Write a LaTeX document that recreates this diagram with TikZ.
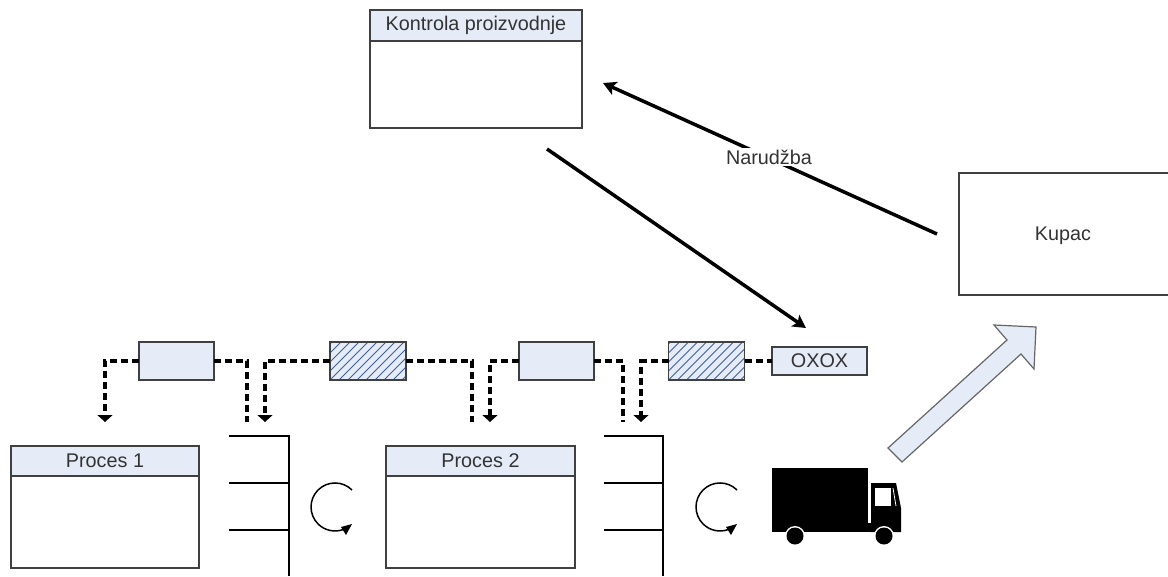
\documentclass[tikz,border=0pt]{standalone}
\usepackage{fontspec}
\setmainfont{Liberation Sans}
\usetikzlibrary{arrows.meta}
\definecolor{paleblue}{HTML}{E6ECF7}
\definecolor{edgegrey}{HTML}{404040}
\definecolor{textgrey}{HTML}{333333}
\definecolor{hatchblue}{HTML}{3F5F9F}
\tikzset{
  x=1pt,y=-1pt,
  every node/.style={font=\fontsize{19.8}{22}\selectfont,text=textgrey,inner sep=0pt,outer sep=0pt},
  frame/.style={draw=edgegrey,line width=1.5pt,fill=white},
  head/.style={draw=edgegrey,line width=1.5pt,fill=paleblue},
  plainbox/.style={head,minimum width=75pt,minimum height=38pt},
  hatchbox/.style={draw=edgegrey,line width=1.5pt,fill=paleblue,minimum width=76pt,minimum height=38pt,
    path picture={
      \foreach \k in {-54,-45,...,72}
        \draw[hatchblue,line width=1pt] ([xshift=\k pt]path picture bounding box.south west) -- ++(50pt,50pt);
    }},
  dashline/.style={draw=black,line width=3.5pt,dash pattern=on 7pt off 4pt},
  dashtip/.style={dashline,-{Triangle[width=15pt,length=7pt]}},
  flow/.style={draw=black,line width=3.5pt,-{Stealth[length=13pt,width=14pt,inset=3pt]}},
  stackline/.style={draw=black,line width=1.5pt},
  cyclearc/.style={draw=black,line width=1.5pt},
}
\begin{document}
\begin{tikzpicture}
\useasboundingbox (0,0) rectangle (1168,576);
\fill[white] (0,0) rectangle (1168,576);

% Control box
\node[frame,minimum width=212pt,minimum height=87pt] (ctrlbody) at (476,84.5) {};
\node[head,minimum width=212pt,minimum height=31pt] (ctrlhead) at (476,25.5) {Kontrola proizvodnje};

% Customer: the box runs off the right edge of the page
\node[frame,minimum width=216pt,minimum height=122pt] (kupac) at (1067,234) {};
\node (kupaclabel) at (1063,236) {Kupac};

% Process boxes
\node[frame,minimum width=188pt,minimum height=92pt] (p1body) at (105,522) {};
\node[head,minimum width=188pt,minimum height=30pt] (p1head) at (105,461) {Proces 1};
\node[frame,minimum width=189pt,minimum height=92pt] (p2body) at (480.5,522) {};
\node[head,minimum width=189pt,minimum height=30pt] (p2head) at (480.5,461) {Proces 2};

% Top row
\node[plainbox] (b1) at (176.5,361) {};
\node[hatchbox] (h1) at (368,361) {};
\node[plainbox] (b2) at (556.5,361) {};
\node[hatchbox] (h2) at (706.5,361) {};
\node[head,minimum width=95pt,minimum height=28pt] (ox) at (819.5,361) {OXOX};

% Free ends
\coordinate (e1) at (105,422);
\coordinate (e2) at (247,422);
\coordinate (e3) at (265,422);
\coordinate (e4) at (472,422);
\coordinate (e5) at (490,422);
\coordinate (e6) at (623,422);
\coordinate (e7) at (641,422);

\draw[dashtip] (b1.west) -| (e1);
\draw[dashline] (b1.east) -| (e2);
\draw[dashtip] (h1.west) -| (e3);
\draw[dashline] (h1.east) -| (e4);
\draw[dashtip] (b2.west) -| (e5);
\draw[dashline] (b2.east) -| (e6);
\draw[dashtip] (h2.west) -| (e7);
\draw[dashline] (h2.east) -- (ox.west);

% Main arrows
\coordinate (oa) at (547,149);
\coordinate (ob) at (806,328);
\coordinate (na) at (937,234);
\coordinate (nb) at (603,83);
\draw[flow] (oa) -- (ob);
\draw[flow] (na) -- (nb);
\node[fill=white,inner xsep=3pt,inner ysep=2pt] (nar) at (769,157) {Narudžba};

% Stacks
\foreach \xa/\xb in {229/289,604/663}{
  \draw[stackline] (\xa,436) -- (\xb,436) -- (\xb,576);
  \draw[stackline] (\xa,483) -- (\xb,483);
  \draw[stackline] (\xa,530) -- (\xb,530);
}

% Cycle arrows
\foreach \dx in {0,385}{
  \begin{scope}[xshift=\dx pt]
    \draw[cyclearc] (352,490) arc[start angle=45,end angle=290,x radius=24pt,y radius=24pt];
    \fill[black] (341,527) -- (352,524) -- (346,535) -- cycle;
  \end{scope}
}

% Big arrow
\draw[draw=edgegrey!80,line width=1.2pt,fill=paleblue]
  (888,448) -- (902,462) -- (1021,354) -- (1034,369) -- (1036,327) -- (994,325) -- (1007,340) -- cycle;

% Truck
\fill[black] (772,468) rectangle (868,532);
\fill[black] (868,523) rectangle (872,532);
\fill[black] (871,483) -- (896,483) -- (901,508) -- (901,532) -- (871,532) -- cycle;
\fill[white] (875,488) rectangle (891,506);
\draw[white,line width=0.8pt] (893,488) -- (896,506);
\foreach \cx in {795,884}{
  \fill[white] (\cx,536) circle[radius=10pt];
  \fill[black] (\cx,536) circle[radius=8.5pt];
}
\end{tikzpicture}
\end{document}
